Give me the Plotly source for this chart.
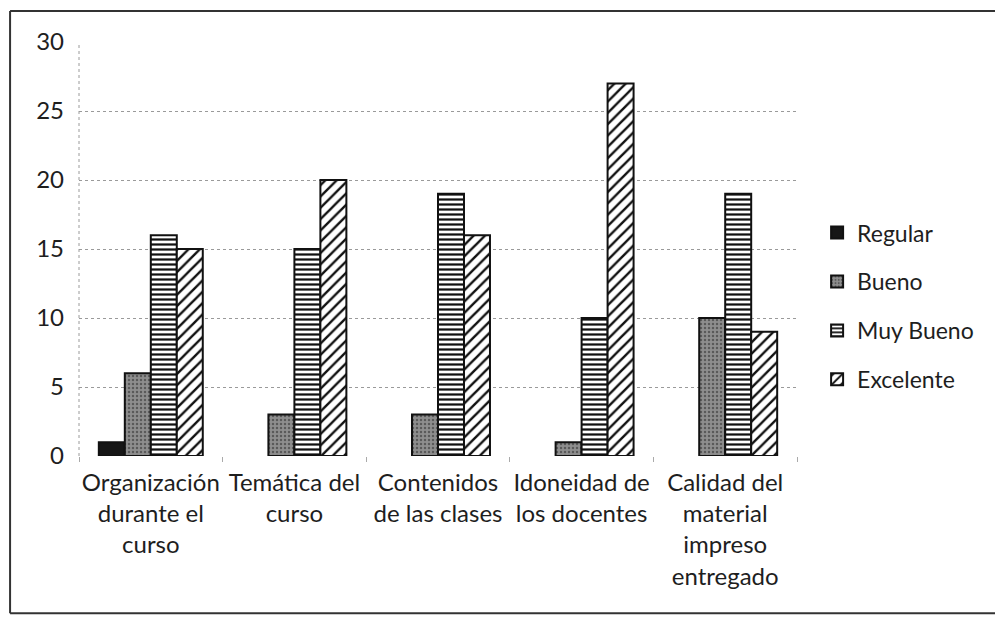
import plotly.graph_objects as go

categories = [
    "Organización<br>durante el<br>curso",
    "Temática del<br>curso",
    "Contenidos<br>de las clases",
    "Idoneidad de<br>los docentes",
    "Calidad del<br>material<br>impreso<br>entregado",
]
regular = [1, 0, 0, 0, 0]
bueno = [6, 3, 3, 1, 10]
muy_bueno = [16, 15, 19, 10, 19]
excelente = [15, 20, 16, 27, 9]
y_ticks = [0, 5, 10, 15, 20, 25, 30]

FONT = "Lato"
TXT = "#1e1e1e"

fig = go.Figure()

def add(name, vals, bg, fg, shape, size, sol, group):
    fig.add_trace(go.Bar(
        name=name, x=categories, y=[v if v else None for v in vals],
        legendgroup=group,
        marker=dict(
            color=bg,
            line=dict(color="#111111", width=2),
            pattern=dict(shape=shape, bgcolor=bg, fgcolor=fg, size=size,
                         solidity=sol, fillmode="replace"),
        ),
    ))

add("Regular", regular, "#161616", "#161616", "", 8, 0.3, "a")
add("Bueno", bueno, "#8e8e8e", "#5a5a5a", ".", 4, 0.3, "b")
add("Muy Bueno", muy_bueno, "#ffffff", "#111111", "-", 5, 0.45, "c")
add("Excelente", excelente, "#ffffff", "#111111", "/", 8, 0.3, "d")

border = dict(color="#333333", width=2)
BX0, BY0, BY1 = -0.096, -0.38, 1.075

fig.update_layout(
    width=995, height=610,
    paper_bgcolor="white", plot_bgcolor="white",
    margin=dict(l=71, r=206, t=34, b=162),
    barmode="group", bargap=0.276, bargroupgap=0,
    font=dict(family=FONT, size=24, color=TXT),
    showlegend=True,
    legend=dict(x=1.028, xanchor="left", y=0.362, yanchor="middle",
                font=dict(family=FONT, size=23, color=TXT),
                traceorder="grouped", tracegroupgap=16,
                bgcolor="rgba(0,0,0,0)"),
    xaxis=dict(tickangle=0, showgrid=False, showline=False, zeroline=False,
               ticks="outside", tickson="boundaries", ticklen=5,
               tickcolor="#aaaaaa", ticklabelstandoff=10,
               tickfont=dict(size=24, color=TXT)),
    yaxis=dict(range=[0, 30], tickvals=y_ticks, showgrid=True,
               gridcolor="#9a9a9a", griddash="dot", gridwidth=1,
               zeroline=False, showline=False, ticklabelstandoff=14,
               tickfont=dict(size=24, color=TXT)),
    shapes=[
        dict(type="line", xref="paper", yref="paper", x0=0, x1=0, y0=0, y1=1,
             line=dict(color="#9a9a9a", width=1, dash="dot")),
        dict(type="line", xref="paper", yref="paper",
             x0=BX0, x1=BX0, y0=BY0, y1=BY1, line=border),
        dict(type="line", xref="paper", yref="paper",
             x0=BX0, x1=1.40, y0=BY1, y1=BY1, line=border),
        dict(type="line", xref="paper", yref="paper",
             x0=BX0, x1=1.40, y0=BY0, y1=BY0, line=border),
    ],
)

fig.write_html("out.html")
